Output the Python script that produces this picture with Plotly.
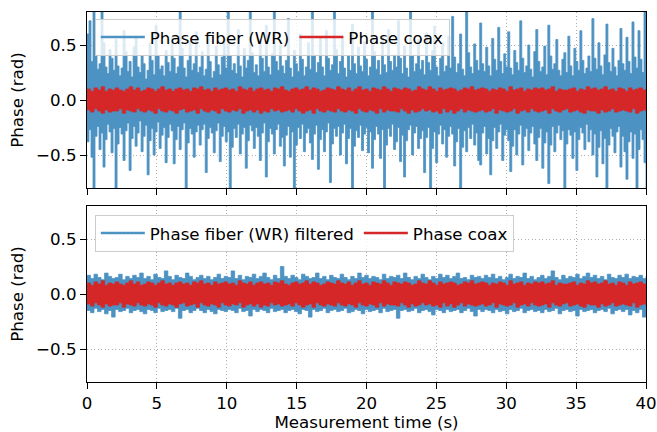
import plotly.graph_objects as go
from plotly.subplots import make_subplots

# ---- data: upper (peak) and lower (trough) values of each noisy trace ----
fiber_hi = [
    0.60, 0.72, 0.35, 0.84, 0.41, 0.28, 0.33, 0.84, 0.52, 0.30, 0.24, 0.46, 0.38, 0.27,
    0.55, 0.31, 0.22, 0.29, 0.63, 0.44, 0.26, 0.35, 0.21, 0.48, 0.58, 0.30, 0.25, 0.40,
    0.33, 0.19, 0.27, 0.52, 0.36, 0.23, 0.68, 0.41, 0.28, 0.31, 0.22, 0.45, 0.34, 0.26,
    0.57, 0.38, 0.24, 0.30, 0.84, 0.47, 0.29, 0.21, 0.36, 0.53, 0.27, 0.33, 0.62, 0.25,
    0.30, 0.44, 0.22, 0.28, 0.61, 0.35, 0.20, 0.26, 0.49, 0.32, 0.23, 0.39, 0.56, 0.29,
    0.84, 0.40, 0.27, 0.33, 0.24, 0.64, 0.31, 0.21, 0.47, 0.29, 0.36, 0.84, 0.43, 0.25,
    0.32, 0.22, 0.55, 0.38, 0.26, 0.68, 0.30, 0.23, 0.42, 0.84, 0.35, 0.27, 0.50, 0.31,
    0.24, 0.36, 0.74, 0.29, 0.21, 0.45, 0.33, 0.26, 0.60, 0.37, 0.22, 0.30, 0.52, 0.28,
    0.84, 0.41, 0.25, 0.34, 0.57, 0.30, 0.22, 0.63, 0.38, 0.27, 0.32, 0.84, 0.46, 0.24,
    0.35, 0.58, 0.29, 0.21, 0.40, 0.27, 0.69, 0.33, 0.24, 0.48, 0.31, 0.26, 0.53, 0.37,
    0.22, 0.30, 0.84, 0.44, 0.28, 0.36, 0.23, 0.57, 0.32, 0.25, 0.64, 0.35, 0.27, 0.41,
    0.30, 0.72, 0.38, 0.24, 0.49, 0.29, 0.21, 0.84, 0.40, 0.26, 0.33, 0.55, 0.28, 0.36,
    0.23, 0.61, 0.34, 0.27, 0.45, 0.67, 0.30, 0.22, 0.38, 0.52, 0.26, 0.31, 0.58, 0.29,
    0.76, 0.39, 0.25, 0.33, 0.60, 0.28, 0.22, 0.84, 0.43, 0.30, 0.24, 0.51, 0.36, 0.27,
    0.70, 0.33, 0.26, 0.48, 0.31, 0.22, 0.56, 0.37, 0.27, 0.66, 0.35, 0.24, 0.42, 0.30,
    0.62, 0.29, 0.23, 0.45, 0.34, 0.27, 0.72, 0.38, 0.25, 0.31, 0.50, 0.28, 0.21, 0.44,
    0.64, 0.35, 0.26, 0.30, 0.49, 0.23, 0.68, 0.40, 0.28, 0.33, 0.55, 0.27, 0.22, 0.37,
    0.43, 0.25, 0.58, 0.31, 0.22, 0.47, 0.35, 0.27, 0.63, 0.36, 0.24, 0.29, 0.40, 0.26,
    0.74, 0.38, 0.28, 0.52, 0.31, 0.23, 0.41, 0.69, 0.34, 0.26, 0.47, 0.30, 0.22, 0.36,
    0.65, 0.33, 0.27, 0.57, 0.35, 0.24, 0.71, 0.39, 0.29, 0.63, 0.37, 0.25, 0.80, 0.40,
]
fiber_lo = [
    -0.38, -0.27, -0.52, -0.86, -0.33, -0.24, -0.45, -0.30, -0.61, -0.36, -0.22, -0.29, -0.48, -0.26,
    -0.86, -0.40, -0.25, -0.31, -0.55, -0.28, -0.21, -0.64, -0.35, -0.24, -0.42, -0.30, -0.19, -0.47,
    -0.33, -0.23, -0.68, -0.37, -0.26, -0.50, -0.29, -0.20, -0.44, -0.32, -0.25, -0.57, -0.34, -0.22,
    -0.28, -0.58, -0.36, -0.24, -0.45, -0.27, -0.21, -0.80, -0.39, -0.26, -0.31, -0.52, -0.29, -0.23,
    -0.41, -0.27, -0.22, -0.66, -0.35, -0.25, -0.30, -0.48, -0.28, -0.21, -0.56, -0.33, -0.24, -0.38,
    -0.29, -0.85, -0.43, -0.26, -0.34, -0.22, -0.49, -0.31, -0.25, -0.62, -0.37, -0.23, -0.28, -0.44,
    -0.25, -0.33, -0.55, -0.30, -0.21, -0.70, -0.38, -0.26, -0.31, -0.49, -0.27, -0.22, -0.42, -0.34,
    -0.60, -0.32, -0.24, -0.52, -0.29, -0.83, -0.41, -0.25, -0.35, -0.22, -0.47, -0.30, -0.26, -0.39,
    -0.54, -0.31, -0.23, -0.63, -0.36, -0.27, -0.47, -0.29, -0.21, -0.75, -0.40, -0.26, -0.33, -0.24,
    -0.50, -0.30, -0.22, -0.58, -0.35, -0.26, -0.80, -0.42, -0.28, -0.34, -0.23, -0.46, -0.31, -0.25,
    -0.48, -0.29, -0.62, -0.36, -0.24, -0.31, -0.53, -0.27, -0.86, -0.41, -0.26, -0.33, -0.22, -0.45,
    -0.38, -0.25, -0.56, -0.32, -0.70, -0.37, -0.27, -0.23, -0.50, -0.30, -0.24, -0.44, -0.35, -0.28,
    -0.66, -0.34, -0.25, -0.84, -0.44, -0.29, -0.57, -0.31, -0.23, -0.40, -0.27, -0.52, -0.33, -0.24,
    -0.31, -0.60, -0.38, -0.26, -0.86, -0.43, -0.28, -0.47, -0.25, -0.35, -0.22, -0.41, -0.30, -0.55,
    -0.59, -0.30, -0.24, -0.49, -0.35, -0.68, -0.37, -0.25, -0.44, -0.29, -0.22, -0.55, -0.32, -0.27,
    -0.37, -0.65, -0.42, -0.27, -0.50, -0.31, -0.23, -0.59, -0.33, -0.26, -0.46, -0.30, -0.24, -0.40,
    -0.55, -0.34, -0.26, -0.62, -0.39, -0.29, -0.76, -0.41, -0.24, -0.47, -0.30, -0.23, -0.36, -0.28,
    -0.85, -0.40, -0.27, -0.32, -0.53, -0.29, -0.64, -0.36, -0.25, -0.30, -0.45, -0.22, -0.38, -0.27,
    -0.50, -0.31, -0.70, -0.43, -0.28, -0.58, -0.35, -0.86, -0.41, -0.26, -0.33, -0.48, -0.29, -0.24,
    -0.61, -0.33, -0.47, -0.72, -0.38, -0.29, -0.53, -0.31, -0.84, -0.45, -0.27, -0.36, -0.57, -0.86,
]
coax_hi = [
    0.10, 0.08, 0.11, 0.09, 0.12, 0.08, 0.10, 0.09,
    0.11, 0.09, 0.08, 0.10, 0.12, 0.09, 0.11, 0.08,
    0.09, 0.11, 0.10, 0.08, 0.10, 0.12, 0.09, 0.10,
    0.08, 0.10, 0.11, 0.09, 0.10, 0.08, 0.11, 0.10,
    0.12, 0.09, 0.10, 0.08, 0.11, 0.09, 0.10, 0.11,
    0.09, 0.10, 0.08, 0.12, 0.10, 0.09, 0.11, 0.08,
    0.10, 0.11, 0.09, 0.10, 0.08, 0.11, 0.10, 0.12,
    0.09, 0.08, 0.10, 0.11, 0.09, 0.10, 0.12, 0.09,
    0.11, 0.10, 0.08, 0.09, 0.11, 0.10, 0.09, 0.12,
    0.10, 0.09, 0.11, 0.08, 0.10, 0.12, 0.09, 0.10,
    0.08, 0.11, 0.10, 0.09, 0.12, 0.10, 0.08, 0.11,
    0.10, 0.09, 0.11, 0.10, 0.08, 0.09, 0.12, 0.10,
    0.09, 0.12, 0.10, 0.08, 0.11, 0.09, 0.10, 0.11,
    0.10, 0.08, 0.09, 0.11, 0.10, 0.12, 0.09, 0.10,
    0.11, 0.10, 0.08, 0.10, 0.09, 0.11, 0.10, 0.08,
    0.12, 0.09, 0.10, 0.11, 0.08, 0.10, 0.09, 0.11,
    0.10, 0.11, 0.09, 0.10, 0.12, 0.08, 0.10, 0.09,
    0.09, 0.10, 0.11, 0.08, 0.10, 0.09, 0.12, 0.10,
    0.11, 0.09, 0.10, 0.12, 0.09, 0.10, 0.08, 0.11,
    0.10, 0.08, 0.11, 0.09, 0.10, 0.11, 0.09, 0.10,
]
coax_lo = [
    -0.09, -0.11, -0.08, -0.10, -0.12, -0.09, -0.11, -0.10,
    -0.10, -0.08, -0.12, -0.09, -0.10, -0.11, -0.08, -0.10,
    -0.11, -0.09, -0.10, -0.12, -0.08, -0.10, -0.11, -0.09,
    -0.10, -0.12, -0.09, -0.08, -0.11, -0.10, -0.09, -0.12,
    -0.08, -0.10, -0.11, -0.09, -0.10, -0.12, -0.08, -0.10,
    -0.11, -0.09, -0.10, -0.08, -0.12, -0.10, -0.09, -0.11,
    -0.09, -0.12, -0.10, -0.11, -0.08, -0.10, -0.09, -0.11,
    -0.10, -0.09, -0.11, -0.08, -0.10, -0.12, -0.10, -0.09,
    -0.12, -0.08, -0.10, -0.11, -0.09, -0.10, -0.11, -0.08,
    -0.10, -0.11, -0.09, -0.10, -0.12, -0.08, -0.10, -0.11,
    -0.09, -0.10, -0.12, -0.08, -0.11, -0.09, -0.10, -0.10,
    -0.11, -0.08, -0.10, -0.12, -0.09, -0.11, -0.10, -0.08,
    -0.10, -0.09, -0.11, -0.10, -0.12, -0.08, -0.11, -0.09,
    -0.12, -0.10, -0.08, -0.11, -0.09, -0.10, -0.11, -0.10,
    -0.09, -0.11, -0.10, -0.08, -0.12, -0.09, -0.10, -0.11,
    -0.10, -0.08, -0.12, -0.10, -0.09, -0.11, -0.08, -0.10,
    -0.11, -0.10, -0.09, -0.12, -0.08, -0.10, -0.11, -0.09,
    -0.08, -0.11, -0.10, -0.09, -0.11, -0.12, -0.09, -0.10,
    -0.10, -0.12, -0.09, -0.11, -0.10, -0.08, -0.11, -0.10,
    -0.09, -0.10, -0.11, -0.08, -0.12, -0.10, -0.09, -0.11,
]
filt_hi = [
    0.17, 0.14, 0.18, 0.15, 0.13, 0.19, 0.16, 0.14,
    0.15, 0.18, 0.13, 0.16, 0.14, 0.17, 0.15, 0.19,
    0.14, 0.16, 0.13, 0.18, 0.15, 0.14, 0.21, 0.16,
    0.13, 0.17, 0.15, 0.14, 0.19, 0.16, 0.13, 0.15,
    0.17, 0.14, 0.16, 0.13, 0.15, 0.18, 0.14, 0.16,
    0.15, 0.21, 0.14, 0.17, 0.13, 0.16, 0.15, 0.18,
    0.14, 0.16, 0.19, 0.15, 0.13, 0.17, 0.14, 0.25,
    0.16, 0.14, 0.17, 0.15, 0.13, 0.18, 0.16, 0.14,
    0.15, 0.19, 0.14, 0.16, 0.13, 0.17, 0.15, 0.14,
    0.18, 0.15, 0.13, 0.16, 0.14, 0.19, 0.15, 0.17,
    0.14, 0.16, 0.15, 0.13, 0.18, 0.14, 0.16, 0.15,
    0.17, 0.14, 0.19, 0.15, 0.13, 0.16, 0.14, 0.18,
    0.15, 0.13, 0.16, 0.14, 0.18, 0.15, 0.17, 0.14,
    0.16, 0.19, 0.14, 0.15, 0.13, 0.17, 0.15, 0.16,
    0.14, 0.17, 0.15, 0.18, 0.14, 0.16, 0.13, 0.15,
    0.18, 0.14, 0.16, 0.15, 0.19, 0.14, 0.16, 0.13,
    0.15, 0.17, 0.14, 0.16, 0.21, 0.15, 0.13, 0.17,
    0.14, 0.16, 0.15, 0.18, 0.14, 0.16, 0.19, 0.15,
    0.17, 0.14, 0.16, 0.13, 0.18, 0.15, 0.14, 0.17,
    0.15, 0.18, 0.14, 0.16, 0.15, 0.17, 0.14, 0.16,
]
filt_lo = [
    -0.15, -0.17, -0.13, -0.16, -0.14, -0.18, -0.15, -0.21,
    -0.14, -0.16, -0.15, -0.13, -0.17, -0.15, -0.14, -0.16,
    -0.18, -0.14, -0.15, -0.17, -0.13, -0.16, -0.15, -0.14,
    -0.16, -0.13, -0.22, -0.15, -0.14, -0.17, -0.15, -0.13,
    -0.15, -0.17, -0.14, -0.16, -0.18, -0.14, -0.15, -0.16,
    -0.14, -0.15, -0.17, -0.13, -0.16, -0.15, -0.20, -0.14,
    -0.16, -0.14, -0.15, -0.17, -0.13, -0.16, -0.15, -0.14,
    -0.17, -0.15, -0.14, -0.16, -0.18, -0.14, -0.15, -0.21,
    -0.14, -0.16, -0.15, -0.13, -0.17, -0.15, -0.14, -0.16,
    -0.15, -0.13, -0.17, -0.16, -0.14, -0.15, -0.18, -0.14,
    -0.16, -0.15, -0.14, -0.17, -0.13, -0.16, -0.15, -0.14,
    -0.22, -0.15, -0.14, -0.16, -0.15, -0.13, -0.17, -0.15,
    -0.14, -0.16, -0.19, -0.14, -0.15, -0.17, -0.14, -0.16,
    -0.15, -0.14, -0.17, -0.15, -0.13, -0.16, -0.20, -0.14,
    -0.16, -0.14, -0.15, -0.17, -0.14, -0.16, -0.15, -0.18,
    -0.14, -0.16, -0.15, -0.13, -0.17, -0.15, -0.14, -0.16,
    -0.15, -0.17, -0.14, -0.16, -0.15, -0.13, -0.18, -0.15,
    -0.14, -0.16, -0.15, -0.20, -0.14, -0.16, -0.15, -0.14,
    -0.17, -0.15, -0.14, -0.16, -0.13, -0.18, -0.15, -0.14,
    -0.16, -0.14, -0.19, -0.15, -0.17, -0.14, -0.21, -0.16,
]
x_ticks = [0, 5, 10, 15, 20, 25, 30, 35, 40]
y_ticks = [-0.5, 0.0, 0.5]
duration = 40.0

BLUE = "rgb(76,146,195)"     # tab:blue at alpha 0.8 on white
RED = "#d62728"
FONT = "DejaVu Sans"
FS = 16.67


def times(n):
    return [k * duration / (n - 1) for k in range(n)]


def add_band(fig, hi, lo, color, row):
    t = times(len(hi))
    fig.add_trace(go.Scatter(x=t, y=lo, mode="lines", line=dict(color=color, width=0.8, shape="hv"),
                             showlegend=False, hoverinfo="skip"), row=row, col=1)
    fig.add_trace(go.Scatter(x=t, y=hi, mode="lines", line=dict(color=color, width=0.8, shape="hv"),
                             fill="tonexty", fillcolor=color, showlegend=False,
                             hoverinfo="skip"), row=row, col=1)


def add_key(fig, name, color, legend, row):
    fig.add_trace(go.Scatter(x=[None], y=[None], mode="lines", name=name,
                             line=dict(color=color, width=2.5), legend=legend), row=row, col=1)


fig = make_subplots(rows=2, cols=1, shared_xaxes=True, vertical_spacing=18 / 370)

add_band(fig, fiber_hi, fiber_lo, BLUE, 1)
add_band(fig, coax_hi, coax_lo, RED, 1)
add_band(fig, filt_hi, filt_lo, BLUE, 2)
add_band(fig, coax_hi, coax_lo, RED, 2)
add_key(fig, "Phase fiber (WR)", BLUE, "legend", 1)
add_key(fig, "Phase coax", RED, "legend", 1)
add_key(fig, "Phase fiber (WR) filtered", BLUE, "legend2", 2)
add_key(fig, "Phase coax", RED, "legend2", 2)

axis_common = dict(showline=True, linecolor="black", linewidth=1.3, mirror=True,
                   ticks="outside", ticklen=6, tickwidth=1.3, tickcolor="black",
                   showgrid=True, gridcolor="#b0b0b0", gridwidth=1.2, griddash="1.3px,2.2px",
                   zeroline=False, automargin=False,
                   tickfont=dict(family=FONT, size=FS, color="black"))

for r in (1, 2):
    fig.update_xaxes(range=[0, 40], tickvals=x_ticks, **axis_common, row=r, col=1)
    fig.update_yaxes(range=[-0.8, 0.8], tickvals=y_ticks, tickformat=".1f",
                     title=dict(text="Phase (rad)", font=dict(family=FONT, size=FS, color="black"),
                                standoff=8),
                     **axis_common, row=r, col=1)
fig.update_xaxes(title=dict(text="Measurement time (s)",
                            font=dict(family=FONT, size=FS, color="black"), standoff=2),
                 row=2, col=1)

legend_common = dict(orientation="h", xanchor="left", yanchor="top", traceorder="normal",
                     itemwidth=44,
                     bgcolor="rgba(255,255,255,0.8)", bordercolor="#cccccc", borderwidth=1,
                     font=dict(family=FONT, size=FS, color="black"))

fig.update_layout(
    width=657, height=432,
    margin=dict(l=87, r=11, t=12, b=50),
    paper_bgcolor="white", plot_bgcolor="white",
    font=dict(family=FONT, size=FS, color="black"),
    legend=dict(x=0.014, y=0.982, **legend_common),
    legend2=dict(x=0.014, y=0.452, **legend_common),
)

fig.write_html("out.html", config={"displayModeBar": False},
               post_script="document.body.style.margin='0';")
